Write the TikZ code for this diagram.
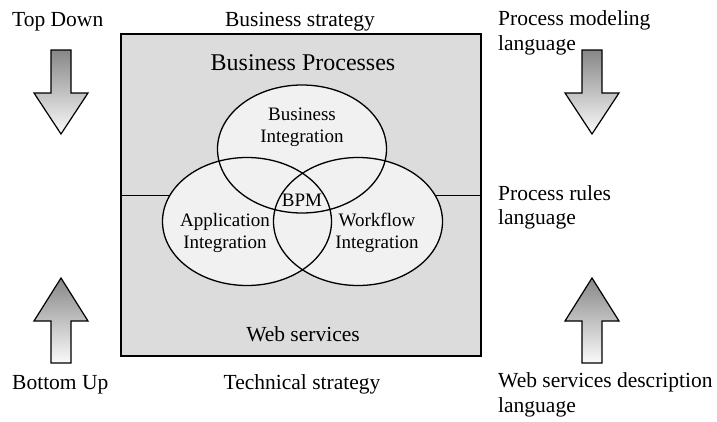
\documentclass[tikz,border=0pt]{standalone}
\usepackage{fontspec}
\setmainfont{Liberation Serif}
\usepackage{xcolor}
\usepackage{tikz}
\usetikzlibrary{calc}

\definecolor{boxgray}{RGB}{220,220,221}
\definecolor{vennfill}{RGB}{241,241,241}

\begin{document}
\begin{tikzpicture}[x=1pt,y=-1pt,
    font=\fontsize{21.5}{24.5}\selectfont,
    lbl/.style={inner sep=0pt},
    lbl2/.style={inner sep=0pt,align=left,anchor=west},
    small/.style={inner sep=0pt,align=center,font=\fontsize{19}{22.5}\selectfont},
    arrowbody/.style={draw,line width=1.2pt,top color=black!47,bottom color=black!2}]
\useasboundingbox (0,0) rectangle (717,421);

% Frame with the two layers
\node[draw,line width=1.3pt,fill=boxgray,minimum width=360pt,minimum height=322pt,inner sep=0pt] (frame) at (301,195) {};
\draw[line width=1pt] (frame.west) -- (frame.east);

% Venn circles
\foreach \cx/\cy in {302/149,247/221.5,358/221.5} {
    \fill[vennfill] (\cx,\cy) ellipse [x radius=84.5pt,y radius=64pt];
}
\foreach \cx/\cy in {302/149,247/221.5,358/221.5} {
    \draw[line width=1.3pt] (\cx,\cy) ellipse [x radius=84.5pt,y radius=64pt];
}

\node[lbl,anchor=base,font=\fontsize{24}{28}\selectfont] (bp) at (303,70.5) {Business Processes};
\node[lbl,anchor=base] (ws) at (303,341.5) {Web services};
\node[small] (bizint) at (302,127.5) {Business\\Integration};
\node[small] (appint) at (225,232.8) {Application\\Integration};
\node[small] (wfint) at (377,232.8) {Workflow\\Integration};
\node[small,anchor=base] (bpm) at (302,206.7) {BPM};

% Strategies
\node[lbl,anchor=base] (bstrat) at (300,26) {Business strategy};
\node[lbl,anchor=base] (tstrat) at (302,389) {Technical strategy};
\node[lbl,anchor=base west] (topdown) at (12,26.5) {Top Down};
\node[lbl,anchor=base west] (bottomup) at (12,389) {Bottom Up};

% Languages
\node[lbl2] (pml) at (498,33) {Process modeling\\language};
\node[lbl2] (prl) at (498,207.5) {Process rules\\language};
\node[lbl2] (wsdl) at (498,395) {Web services description\\language};

% Down and up arrows
\foreach \x in {61,592} {
    \draw[arrowbody] (\x-10,50) -- (\x+10,50) -- (\x+10,93) -- (\x+27,93) -- (\x,134)
        -- (\x-27,93) -- (\x-10,93) -- cycle;
    \draw[arrowbody] (\x,278) -- (\x+27,321) -- (\x+10,321) -- (\x+10,363) -- (\x-10,363)
        -- (\x-10,321) -- (\x-27,321) -- cycle;
}
\end{tikzpicture}
\end{document}
